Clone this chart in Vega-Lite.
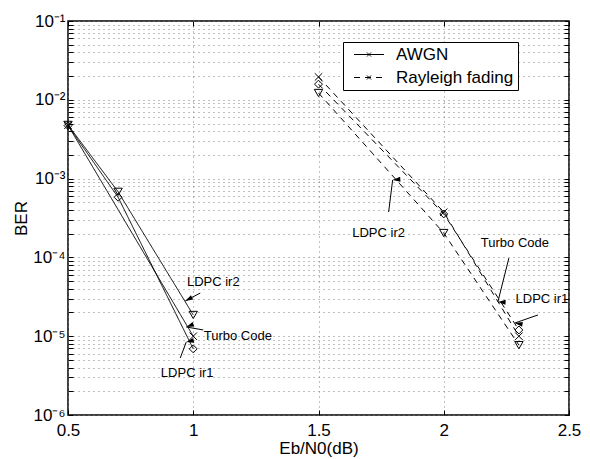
{
  "$schema": "https://vega.github.io/schema/vega-lite/v6.json",
  "width": 501,
  "height": 394,
  "autosize": {"type": "none"},
  "padding": {"left": 68, "top": 21, "right": 21, "bottom": 44},
  "background": "white",
  "config": {
    "view": {"stroke": "black", "strokeWidth": 1.5},
    "font": "Liberation Sans",
    "axis": {
      "labelFont": "Liberation Sans", "titleFont": "Liberation Sans",
      "labelColor": "black", "titleColor": "black", "titleFontWeight": "normal",
      "domainColor": "black", "tickColor": "black",
      "gridColor": "#808080", "gridDash": [1, 4], "gridOpacity": 1, "gridWidth": 1,
      "labelFontSize": 17, "titleFontSize": 17, "tickSize": -5, "tickWidth": 1
    },
    "legend": {"labelFont": "Liberation Sans", "labelColor": "black"}
  },
  "datasets": {
    "curves": [
      {"ch": "AWGN", "code": "LDPC ir2", "ebn0": 0.5, "ber": 0.0048},
      {"ch": "AWGN", "code": "LDPC ir2", "ebn0": 0.7, "ber": 0.00068},
      {"ch": "AWGN", "code": "LDPC ir2", "ebn0": 1.0, "ber": 0.0000186},
      {"ch": "AWGN", "code": "LDPC ir1", "ebn0": 0.5, "ber": 0.0047},
      {"ch": "AWGN", "code": "LDPC ir1", "ebn0": 0.7, "ber": 0.00058},
      {"ch": "AWGN", "code": "LDPC ir1", "ebn0": 1.0, "ber": 0.0000069},
      {"ch": "AWGN", "code": "Turbo Code", "ebn0": 0.5, "ber": 0.00475},
      {"ch": "AWGN", "code": "Turbo Code", "ebn0": 1.0, "ber": 0.00001},
      {"ch": "Rayleigh fading", "code": "LDPC ir2", "ebn0": 1.5, "ber": 0.0122},
      {"ch": "Rayleigh fading", "code": "LDPC ir2", "ebn0": 2.0, "ber": 0.000204},
      {"ch": "Rayleigh fading", "code": "LDPC ir2", "ebn0": 2.3, "ber": 0.0000077},
      {"ch": "Rayleigh fading", "code": "LDPC ir1", "ebn0": 1.5, "ber": 0.0158},
      {"ch": "Rayleigh fading", "code": "LDPC ir1", "ebn0": 2.0, "ber": 0.000356},
      {"ch": "Rayleigh fading", "code": "LDPC ir1", "ebn0": 2.3, "ber": 0.000012},
      {"ch": "Rayleigh fading", "code": "Turbo Code", "ebn0": 1.5, "ber": 0.0195},
      {"ch": "Rayleigh fading", "code": "Turbo Code", "ebn0": 2.0, "ber": 0.000375},
      {"ch": "Rayleigh fading", "code": "Turbo Code", "ebn0": 2.3, "ber": 0.00001}
    ],
    "arrows": [
      {"id": "a1", "x": 1.028, "y": 0.0000353, "x2": 0.968, "y2": 0.000028},
      {"id": "a2", "x": 1.04, "y": 0.000012, "x2": 0.972, "y2": 0.0000131},
      {"id": "a3", "x": 0.948, "y": 0.00000528, "x2": 0.972, "y2": 0.00000843},
      {"id": "a4", "x": 1.78, "y": 0.000377, "x2": 1.796, "y2": 0.00096},
      {"id": "a5", "x": 2.26, "y": 0.000098, "x2": 2.216, "y2": 0.0000272},
      {"id": "a6", "x": 2.376, "y": 0.0000186, "x2": 2.284, "y2": 0.0000147}
    ],
    "notes": [
      {"text": "LDPC ir2", "x": 1.08, "y": 0.0000488},
      {"text": "Turbo Code", "x": 1.178, "y": 0.00001},
      {"text": "LDPC ir1", "x": 0.976, "y": 0.00000341},
      {"text": "LDPC ir2", "x": 1.74, "y": 0.000204},
      {"text": "Turbo Code", "x": 2.284, "y": 0.000152},
      {"text": "LDPC ir1", "x": 2.392, "y": 0.0000296}
    ]
  },
  "layer": [
    {
      "data": {"name": "curves"},
      "mark": {"type": "line", "color": "black", "strokeWidth": 1},
      "encoding": {
        "x": {
          "field": "ebn0", "type": "quantitative",
          "scale": {"domain": [0.5, 2.5], "nice": false, "zero": false},
          "axis": {
            "orient": "bottom", "values": [0.5, 1, 1.5, 2, 2.5], "format": "~g",
            "grid": true, "domain": false, "labelPadding": 12, "labelFlush": false,
            "labelOverlap": false, "title": "Eb/N0(dB)", "titlePadding": 2
          }
        },
        "y": {
          "field": "ber", "type": "quantitative",
          "scale": {"type": "log", "domain": [0.000001, 0.1], "nice": false},
          "axis": {
            "orient": "left",
            "values": [1e-6, 2e-6, 3e-6, 4e-6, 5e-6, 6e-6, 7e-6, 8e-6, 9e-6,
                       1e-5, 2e-5, 3e-5, 4e-5, 5e-5, 6e-5, 7e-5, 8e-5, 9e-5,
                       1e-4, 2e-4, 3e-4, 4e-4, 5e-4, 6e-4, 7e-4, 8e-4, 9e-4,
                       1e-3, 2e-3, 3e-3, 4e-3, 5e-3, 6e-3, 7e-3, 8e-3, 9e-3,
                       1e-2, 2e-2, 3e-2, 4e-2, 5e-2, 6e-2, 7e-2, 8e-2, 9e-2, 1e-1],
            "labelExpr": "abs(log(datum.value)/LN10 - round(log(datum.value)/LN10)) < 0.001 ? '10' + ['⁻⁶','⁻⁵','⁻⁴','⁻³','⁻²','⁻¹'][round(log(datum.value)/LN10) + 6] : ''",
            "grid": true, "domain": false, "labelPadding": 8, "labelOverlap": false,
            "labelBound": false, "title": "BER", "titlePadding": 2
          }
        },
        "detail": {"field": "code", "type": "nominal"},
        "strokeDash": {
          "field": "ch", "type": "nominal",
          "scale": {"domain": ["AWGN", "Rayleigh fading"], "range": [[1, 0], [6, 5]]},
          "legend": {
            "orient": "none", "legendX": 275, "legendY": 21, "title": null,
            "symbolType": "M-0.2,0H3.8M1.53,-0.27L2.07,0.27M1.53,0.27L2.07,-0.27",
            "symbolSize": 225, "symbolStrokeColor": "black", "symbolStrokeWidth": 1,
            "symbolFillColor": "transparent",
            "labelFontSize": 17, "labelOffset": 32, "padding": 4, "rowPadding": 5,
            "strokeColor": "black", "fillColor": "white"
          }
        },
        "order": {"field": "ebn0", "type": "quantitative"}
      }
    },
    {
      "data": {"name": "curves"},
      "mark": {"type": "point", "opacity": 0},
      "encoding": {
        "x": {
          "field": "ebn0", "type": "quantitative",
          "axis": {"orient": "top", "values": [0.5, 1, 1.5, 2, 2.5], "labels": false,
                   "grid": false, "domain": false, "title": null}
        },
        "y": {
          "field": "ber", "type": "quantitative",
          "axis": {
            "orient": "right",
            "values": [1e-6, 2e-6, 3e-6, 4e-6, 5e-6, 6e-6, 7e-6, 8e-6, 9e-6,
                       1e-5, 2e-5, 3e-5, 4e-5, 5e-5, 6e-5, 7e-5, 8e-5, 9e-5,
                       1e-4, 2e-4, 3e-4, 4e-4, 5e-4, 6e-4, 7e-4, 8e-4, 9e-4,
                       1e-3, 2e-3, 3e-3, 4e-3, 5e-3, 6e-3, 7e-3, 8e-3, 9e-3,
                       1e-2, 2e-2, 3e-2, 4e-2, 5e-2, 6e-2, 7e-2, 8e-2, 9e-2, 1e-1],
            "labels": false, "grid": false, "domain": false, "title": null
          }
        }
      }
    },
    {
      "data": {"name": "curves"},
      "mark": {"type": "point", "filled": false, "color": "black", "strokeWidth": 1, "opacity": 1},
      "encoding": {
        "x": {"field": "ebn0", "type": "quantitative", "axis": null},
        "y": {"field": "ber", "type": "quantitative", "axis": null},
        "shape": {
          "field": "code", "type": "nominal",
          "scale": {"domain": ["LDPC ir2", "LDPC ir1", "Turbo Code"],
                    "range": ["triangle-down", "diamond", "M-1,-1L1,1M-1,1L1,-1"]},
          "legend": null
        },
        "size": {
          "field": "code", "type": "nominal",
          "scale": {"domain": ["LDPC ir2", "LDPC ir1", "Turbo Code"], "range": [70, 55, 20]},
          "legend": null
        }
      }
    },
    {
      "data": {"name": "arrows"},
      "mark": {"type": "rule", "color": "black", "strokeWidth": 1},
      "encoding": {
        "x": {"field": "x", "type": "quantitative", "axis": null},
        "y": {"field": "y", "type": "quantitative", "axis": null},
        "x2": {"field": "x2"},
        "y2": {"field": "y2"}
      }
    },
    {
      "data": {"name": "arrows"},
      "mark": {"type": "point", "shape": "M0,0L-0.7,2.2L0.7,2.2Z", "filled": true, "color": "black", "size": 49, "opacity": 1},
      "encoding": {
        "x": {"field": "x2", "type": "quantitative", "axis": null},
        "y": {"field": "y2", "type": "quantitative", "axis": null},
        "angle": {
          "field": "id", "type": "nominal",
          "scale": {"domain": ["a1", "a2", "a3", "a4", "a5", "a6"],
                    "range": [242, 280, 21, 7, 194, 251]},
          "legend": null
        }
      }
    },
    {
      "data": {"name": "notes"},
      "mark": {"type": "text", "font": "Liberation Sans", "fontSize": 13, "color": "black", "align": "center", "baseline": "middle"},
      "encoding": {
        "x": {"field": "x", "type": "quantitative", "axis": null},
        "y": {"field": "y", "type": "quantitative", "axis": null},
        "text": {"field": "text"}
      }
    }
  ],
  "resolve": {"axis": {"x": "independent", "y": "independent"}}
}
